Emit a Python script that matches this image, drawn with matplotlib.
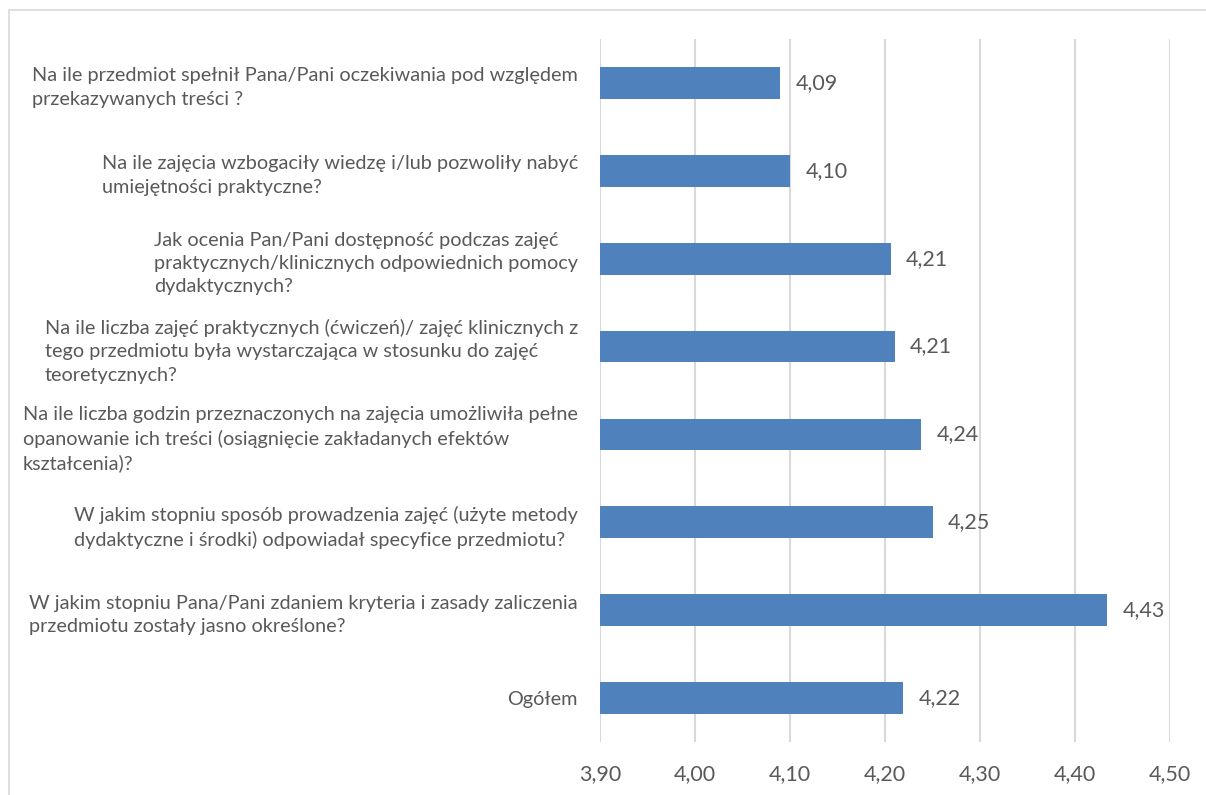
import matplotlib.pyplot as plt
from matplotlib.patches import Rectangle

# pytania ankiety (od gory) i srednie oceny
pytania = [
    "Na ile przedmiot spełnił Pana/Pani oczekiwania pod względem\nprzekazywanych treści ?",
    "Na ile zajęcia wzbogaciły wiedzę i/lub pozwoliły nabyć\numiejętności praktyczne?",
    "Jak ocenia Pan/Pani dostępność podczas zajęć\npraktycznych/klinicznych odpowiednich pomocy\ndydaktycznych?",
    "Na ile liczba zajęć praktycznych (ćwiczeń)/ zajęć klinicznych z\ntego przedmiotu była wystarczająca w stosunku do zajęć\nteoretycznych?",
    "Na ile liczba godzin przeznaczonych na zajęcia umożliwiła pełne\nopanowanie ich treści (osiągnięcie zakładanych efektów\nkształcenia)?",
    "W jakim stopniu sposób prowadzenia zajęć (użyte metody\ndydaktyczne i środki) odpowiadał specyfice przedmiotu?",
    "W jakim stopniu Pana/Pani zdaniem kryteria i zasady zaliczenia\nprzedmiotu zostały jasno określone?",
    "Ogółem",
]
oceny = [4.09, 4.10, 4.206, 4.21, 4.238, 4.25, 4.434, 4.219]
ticki = [3.9, 4.0, 4.1, 4.2, 4.3, 4.4, 4.5]

szary = "#595959"
plt.rcParams['font.family'] = ['Lato', 'DejaVu Sans']

fig = plt.figure(figsize=(12.06, 7.95), dpi=100)
ax = fig.add_axes([600/1206, 1 - 742/795, 570/1206, 703/795])

# ramka wykresu
fig.patches.append(Rectangle((9/1206, -0.1), 1.2, 1 - 10/795 + 0.1, transform=fig.transFigure,
                             fill=False, edgecolor="#d9d9d9", linewidth=1.2))

y = list(range(len(pytania)))
ax.barh(y, [v - 3.9 for v in oceny], left=3.9, height=0.36, color="#4F81BD", zorder=3)

for yi, v in zip(y, oceny):
    ax.annotate(f"{v:.2f}".replace(".", ","), (v, yi), xytext=(11, 0), textcoords="offset points",
                va="center", ha="left", fontsize=15.5, color=szary)

ax.set_xlim(3.9, 4.5)
ax.set_ylim(len(pytania) - 0.5, -0.5)
ax.set_xticks(ticki)
ax.set_xticklabels([f"{t:.2f}".replace(".", ",") for t in ticki], fontsize=15.5, color=szary)
ax.set_yticks(y)
ax.set_yticklabels(pytania, fontsize=14.3, color=szary, linespacing=1.45)
for lab in ax.get_yticklabels():
    lab.set_multialignment("left")
ax.tick_params(axis="y", length=0, pad=16)
ax.tick_params(axis="x", length=0, pad=16)

ax.grid(axis="x", color="#d9d9d9", linewidth=1.5, zorder=0)
for s in ax.spines.values():
    s.set_visible(False)

fig.savefig("out.png", dpi=100)
